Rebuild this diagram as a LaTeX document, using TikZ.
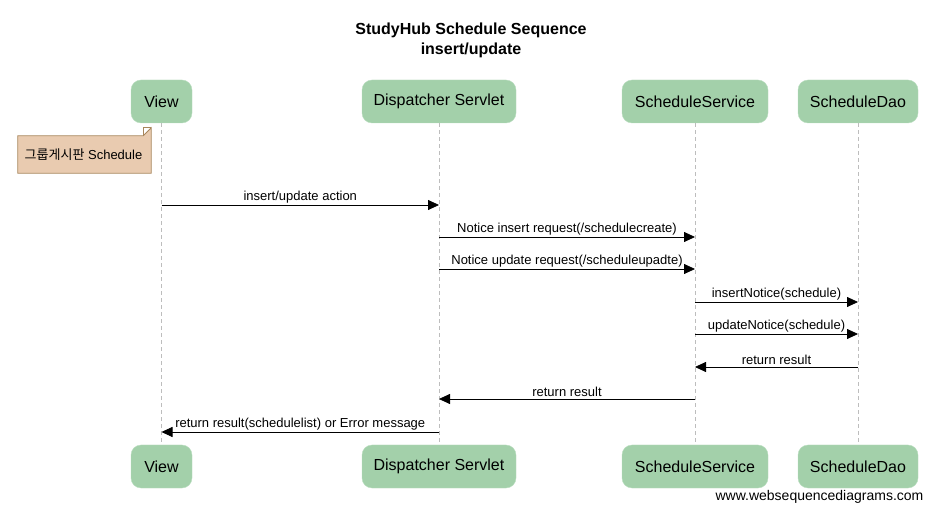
\documentclass[tikz,border=0pt]{standalone}
\usepackage{fontspec}
\setmainfont{Liberation Sans}
\newfontfamily\krfont{Noto Sans CJK KR}
\usetikzlibrary{arrows.meta}
\definecolor{actorgreen}{HTML}{A3D0AA}
\definecolor{actoredge}{HTML}{B8DCBE}
\definecolor{notefill}{HTML}{E9CBB0}
\definecolor{noteedge}{HTML}{A8865C}
\definecolor{lifegray}{HTML}{BDBDBD}

\begin{document}
\begin{tikzpicture}[x=1pt,y=-1pt,
    lifeline/.style={draw=lifegray,line width=0.8pt,dash pattern=on 4pt off 3pt},
    msg/.style={line width=0.8pt,-{Triangle[length=11pt,width=10pt]}},
    msglabel/.style={midway,above,inner sep=1.5pt,font=\fontsize{13}{15}\selectfont}]
\useasboundingbox (0,0) rectangle (946,521);

% title
\node[align=center,font=\fontsize{16}{20}\selectfont\bfseries] (title) at (471,40)
    {StudyHub Schedule Sequence\\insert/update};

% participants, top and bottom
\begin{scope}[every node/.style={draw=actoredge,fill=actorgreen,rounded corners=10pt,
              minimum height=43pt,inner sep=0pt,font=\fontsize{16}{19}\selectfont}]
    \node[minimum width=61pt]  (View)    at (161.5,101.5) {View};
    \node[minimum width=154pt] (Servlet) at (439,101.5)   {Dispatcher Servlet};
    \node[minimum width=146pt] (Service) at (695,101.5)   {ScheduleService};
    \node[minimum width=120pt] (Dao)     at (858,101.5)   {ScheduleDao};
    \node[minimum width=61pt]  (View2)    at (161.5,466.5) {View};
    \node[minimum width=154pt] (Servlet2) at (439,466.5)   {Dispatcher Servlet};
    \node[minimum width=146pt] (Service2) at (695,466.5)   {ScheduleService};
    \node[minimum width=120pt] (Dao2)     at (858,466.5)   {ScheduleDao};
\end{scope}

% lifelines
\path[lifeline] (View) -- (View2);
\path[lifeline] (Servlet) -- (Servlet2);
\path[lifeline] (Service) -- (Service2);
\path[lifeline] (Dao) -- (Dao2);

% note
\node[minimum width=133pt,minimum height=37pt,inner sep=0pt] (note) at (84.5,154.5) {};
\filldraw[fill=notefill,draw=noteedge,line width=0.8pt]
    (note.north west) -- ([xshift=-8pt]note.north east) -- ([yshift=8pt]note.north east)
    -- (note.south east) -- (note.south west) -- cycle;
\draw[noteedge,line width=0.8pt] ([xshift=-8pt]note.north east) -- ([xshift=-8pt,yshift=8pt]note.north east)
    -- ([yshift=8pt]note.north east);
\node[font=\fontsize{13}{15}\selectfont] at ([xshift=-1pt]note) {{\krfont 그룹게시판} Schedule};

% message points on the lifelines
\coordinate (v1) at (View |- 0,205);
\coordinate (s1) at (Servlet |- 0,205);
\coordinate (s2) at (Servlet |- 0,237);
\coordinate (c2) at (Service |- 0,237);
\coordinate (s3) at (Servlet |- 0,269);
\coordinate (c3) at (Service |- 0,269);
\coordinate (c4) at (Service |- 0,302);
\coordinate (d4) at (Dao |- 0,302);
\coordinate (c5) at (Service |- 0,334);
\coordinate (d5) at (Dao |- 0,334);
\coordinate (d6) at (Dao |- 0,367);
\coordinate (c6) at (Service |- 0,367);
\coordinate (c7) at (Service |- 0,399);
\coordinate (s7) at (Servlet |- 0,399);
\coordinate (s8) at (Servlet |- 0,432);
\coordinate (v8) at (View |- 0,432);

% messages
\draw[msg] (v1) -- (s1) node[msglabel] {insert/update action};
\draw[msg] (s2) -- (c2) node[msglabel] {Notice insert request(/schedulecreate)};
\draw[msg] (s3) -- (c3) node[msglabel] {Notice update request(/scheduleupadte)};
\draw[msg] (c4) -- (d4) node[msglabel] {insertNotice(schedule)};
\draw[msg] (c5) -- (d5) node[msglabel] {updateNotice(schedule)};
\draw[msg] (d6) -- (c6) node[msglabel] {return result};
\draw[msg] (c7) -- (s7) node[msglabel] {return result};
\draw[msg] (s8) -- (v8) node[msglabel] {return result(schedulelist) or Error message};

\node[font=\fontsize{14}{16}\selectfont] (footer) at (819.5,497) {www.websequencediagrams.com};
\end{tikzpicture}
\end{document}
